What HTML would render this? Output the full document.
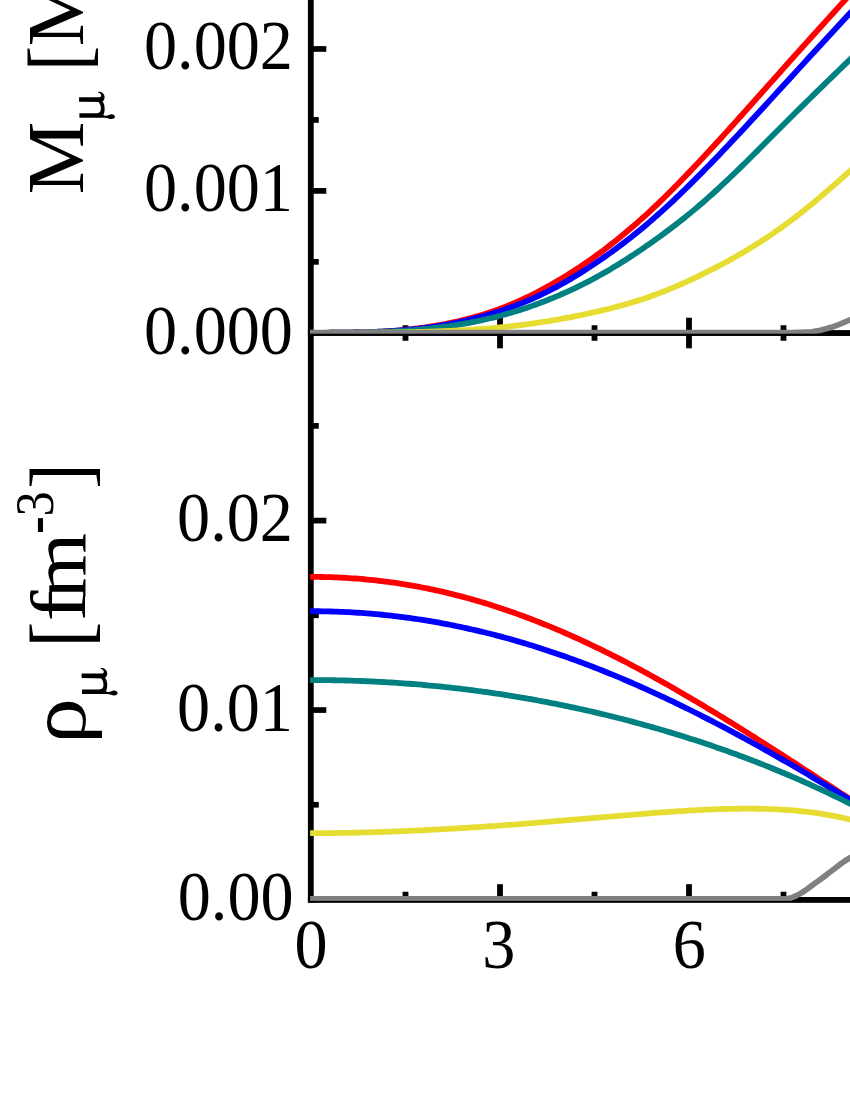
<!DOCTYPE html>
<html><head><meta charset="utf-8"><title>chart</title>
<style>
html,body{margin:0;padding:0;background:#fff;}
body{width:850px;height:1100px;overflow:hidden;font-family:"Liberation Serif",serif;}
svg{display:block}
text{font-family:"Liberation Serif",serif;fill:#000}
</style></head><body>
<svg width="850" height="1100" viewBox="0 0 850 1100">
<rect width="850" height="1100" fill="#fff"/>

<g fill="#000">
<rect x="307.9" y="-5" width="5.8" height="907.6"/>
<rect x="307.9" y="330.1" width="560" height="5.7"/>
<rect x="307.9" y="897.0" width="560" height="5.6"/>
<rect x="402.60" y="325.25" width="5.8" height="15.50"/>
<rect x="402.60" y="891.75" width="5.8" height="7.75"/>
<rect x="497.10" y="317.70" width="5.8" height="30.60"/>
<rect x="497.10" y="884.20" width="5.8" height="15.30"/>
<rect x="591.60" y="325.25" width="5.8" height="15.50"/>
<rect x="591.60" y="891.75" width="5.8" height="7.75"/>
<rect x="686.10" y="317.70" width="5.8" height="30.60"/>
<rect x="686.10" y="884.20" width="5.8" height="15.30"/>
<rect x="780.60" y="325.25" width="5.8" height="15.50"/>
<rect x="780.60" y="891.75" width="5.8" height="7.75"/>
<rect x="311.00" y="259.02" width="7.75" height="5.7"/>
<rect x="311.00" y="188.05" width="15.30" height="5.7"/>
<rect x="311.00" y="117.08" width="7.75" height="5.7"/>
<rect x="311.00" y="46.10" width="15.30" height="5.7"/>
<rect x="311.00" y="-24.88" width="7.75" height="5.7"/>
<rect x="311.00" y="-95.85" width="15.30" height="5.7"/>
<rect x="311.00" y="801.92" width="7.75" height="5.7"/>
<rect x="311.00" y="707.20" width="15.30" height="5.7"/>
<rect x="311.00" y="612.48" width="7.75" height="5.7"/>
<rect x="311.00" y="517.75" width="15.30" height="5.7"/>
<rect x="311.00" y="423.02" width="7.75" height="5.7"/>
</g>
<defs><clipPath id="cu"><rect x="310" y="-10" width="600" height="344"/></clipPath><clipPath id="cl"><rect x="310" y="336" width="600" height="565"/></clipPath></defs>
<g fill="none" stroke-width="5.8" stroke-linejoin="round" clip-path="url(#cu)">
<path stroke="#ff0000" d="M310.1,332.80 L313.1,332.80 L316.1,332.80 L319.1,332.80 L322.1,332.79 L325.1,332.79 L328.1,332.78 L331.1,332.77 L334.1,332.76 L337.1,332.74 L340.1,332.72 L343.1,332.69 L346.1,332.65 L349.1,332.61 L352.1,332.57 L355.1,332.51 L358.1,332.45 L361.1,332.38 L364.1,332.30 L367.1,332.20 L370.1,332.10 L373.1,331.99 L376.1,331.86 L379.1,331.72 L382.1,331.56 L385.1,331.39 L388.1,331.21 L391.1,331.00 L394.1,330.79 L397.1,330.55 L400.1,330.29 L403.1,330.02 L406.1,329.72 L409.1,329.40 L412.1,329.07 L415.1,328.71 L418.1,328.34 L421.1,327.94 L424.1,327.52 L427.1,327.08 L430.1,326.62 L433.1,326.14 L436.1,325.63 L439.1,325.11 L442.1,324.56 L445.1,323.98 L448.1,323.39 L451.1,322.77 L454.1,322.13 L457.1,321.46 L460.1,320.77 L463.1,320.05 L466.1,319.31 L469.1,318.54 L472.1,317.74 L475.1,316.91 L478.1,316.05 L481.1,315.16 L484.1,314.24 L487.1,313.29 L490.1,312.30 L493.1,311.28 L496.1,310.23 L499.1,309.13 L502.1,308.01 L505.1,306.84 L508.1,305.64 L511.1,304.41 L514.1,303.14 L517.1,301.83 L520.1,300.49 L523.1,299.12 L526.1,297.71 L529.1,296.27 L532.1,294.79 L535.1,293.28 L538.1,291.74 L541.1,290.16 L544.1,288.55 L547.1,286.91 L550.1,285.24 L553.1,283.54 L556.1,281.81 L559.1,280.04 L562.1,278.24 L565.1,276.42 L568.1,274.56 L571.1,272.66 L574.1,270.74 L577.1,268.78 L580.1,266.80 L583.1,264.78 L586.1,262.73 L589.1,260.64 L592.1,258.53 L595.1,256.38 L598.1,254.20 L601.1,251.98 L604.1,249.74 L607.1,247.46 L610.1,245.15 L613.1,242.81 L616.1,240.43 L619.1,238.02 L622.1,235.58 L625.1,233.10 L628.1,230.59 L631.1,228.04 L634.1,225.46 L637.1,222.85 L640.1,220.20 L643.1,217.51 L646.1,214.79 L649.1,212.03 L652.1,209.24 L655.1,206.42 L658.1,203.55 L661.1,200.66 L664.1,197.74 L667.1,194.78 L670.1,191.80 L673.1,188.79 L676.1,185.76 L679.1,182.70 L682.1,179.61 L685.1,176.51 L688.1,173.38 L691.1,170.24 L694.1,167.07 L697.1,163.89 L700.1,160.69 L703.1,157.48 L706.1,154.26 L709.1,151.02 L712.1,147.77 L715.1,144.50 L718.1,141.23 L721.1,137.94 L724.1,134.65 L727.1,131.34 L730.1,128.03 L733.1,124.70 L736.1,121.38 L739.1,118.04 L742.1,114.70 L745.1,111.35 L748.1,108.00 L751.1,104.64 L754.1,101.28 L757.1,97.91 L760.1,94.55 L763.1,91.18 L766.1,87.81 L769.1,84.44 L772.1,81.07 L775.1,77.70 L778.1,74.33 L781.1,70.97 L784.1,67.60 L787.1,64.24 L790.1,60.89 L793.1,57.54 L796.1,54.19 L799.1,50.85 L802.1,47.51 L805.1,44.17 L808.1,40.84 L811.1,37.51 L814.1,34.19 L817.1,30.86 L820.1,27.54 L823.1,24.22 L826.1,20.90 L829.1,17.59 L832.1,14.27 L835.1,10.96 L838.1,7.64 L841.1,4.33 L844.1,1.02 L847.1,-2.30 L850.1,-5.61 L853.1,-8.92 L856.1,-12.24 L859.1,-15.55 L862.1,-18.87 L865.1,-22.18 L868.1,-25.50 L871.1,-28.82"/>
<path stroke="#0000ff" d="M310.1,332.80 L313.1,332.80 L316.1,332.80 L319.1,332.80 L322.1,332.79 L325.1,332.79 L328.1,332.78 L331.1,332.77 L334.1,332.76 L337.1,332.74 L340.1,332.71 L343.1,332.69 L346.1,332.65 L349.1,332.61 L352.1,332.57 L355.1,332.51 L358.1,332.45 L361.1,332.39 L364.1,332.31 L367.1,332.22 L370.1,332.13 L373.1,332.02 L376.1,331.90 L379.1,331.77 L382.1,331.63 L385.1,331.48 L388.1,331.31 L391.1,331.13 L394.1,330.93 L397.1,330.72 L400.1,330.49 L403.1,330.25 L406.1,329.99 L409.1,329.71 L412.1,329.42 L415.1,329.11 L418.1,328.78 L421.1,328.43 L424.1,328.06 L427.1,327.67 L430.1,327.26 L433.1,326.83 L436.1,326.38 L439.1,325.91 L442.1,325.41 L445.1,324.89 L448.1,324.35 L451.1,323.79 L454.1,323.20 L457.1,322.59 L460.1,321.96 L463.1,321.30 L466.1,320.61 L469.1,319.90 L472.1,319.17 L475.1,318.41 L478.1,317.63 L481.1,316.82 L484.1,315.98 L487.1,315.12 L490.1,314.23 L493.1,313.31 L496.1,312.37 L499.1,311.40 L502.1,310.40 L505.1,309.37 L508.1,308.32 L511.1,307.24 L514.1,306.12 L517.1,304.98 L520.1,303.81 L523.1,302.60 L526.1,301.37 L529.1,300.10 L532.1,298.79 L535.1,297.46 L538.1,296.09 L541.1,294.68 L544.1,293.24 L547.1,291.76 L550.1,290.25 L553.1,288.70 L556.1,287.11 L559.1,285.49 L562.1,283.83 L565.1,282.14 L568.1,280.41 L571.1,278.65 L574.1,276.86 L577.1,275.03 L580.1,273.17 L583.1,271.28 L586.1,269.37 L589.1,267.42 L592.1,265.44 L595.1,263.44 L598.1,261.40 L601.1,259.34 L604.1,257.25 L607.1,255.14 L610.1,253.00 L613.1,250.82 L616.1,248.62 L619.1,246.39 L622.1,244.14 L625.1,241.85 L628.1,239.52 L631.1,237.17 L634.1,234.79 L637.1,232.37 L640.1,229.92 L643.1,227.44 L646.1,224.92 L649.1,222.37 L652.1,219.79 L655.1,217.17 L658.1,214.51 L661.1,211.83 L664.1,209.11 L667.1,206.36 L670.1,203.59 L673.1,200.78 L676.1,197.95 L679.1,195.09 L682.1,192.20 L685.1,189.29 L688.1,186.36 L691.1,183.40 L694.1,180.42 L697.1,177.42 L700.1,174.40 L703.1,171.36 L706.1,168.30 L709.1,165.23 L712.1,162.13 L715.1,159.03 L718.1,155.90 L721.1,152.76 L724.1,149.61 L727.1,146.45 L730.1,143.27 L733.1,140.08 L736.1,136.88 L739.1,133.67 L742.1,130.44 L745.1,127.21 L748.1,123.98 L751.1,120.73 L754.1,117.48 L757.1,114.22 L760.1,110.96 L763.1,107.69 L766.1,104.42 L769.1,101.14 L772.1,97.86 L775.1,94.59 L778.1,91.31 L781.1,88.03 L784.1,84.75 L787.1,81.47 L790.1,78.19 L793.1,74.92 L796.1,71.65 L799.1,68.38 L802.1,65.11 L805.1,61.85 L808.1,58.58 L811.1,55.33 L814.1,52.07 L817.1,48.81 L820.1,45.56 L823.1,42.30 L826.1,39.05 L829.1,35.80 L832.1,32.56 L835.1,29.31 L838.1,26.06 L841.1,22.82 L844.1,19.58 L847.1,16.33 L850.1,13.09 L853.1,9.85 L856.1,6.61 L859.1,3.37 L862.1,0.13 L865.1,-3.11 L868.1,-6.35 L871.1,-9.59"/>
<path stroke="#008080" d="M310.1,332.80 L313.1,332.80 L316.1,332.80 L319.1,332.79 L322.1,332.79 L325.1,332.78 L328.1,332.77 L331.1,332.75 L334.1,332.73 L337.1,332.72 L340.1,332.69 L343.1,332.67 L346.1,332.64 L349.1,332.61 L352.1,332.58 L355.1,332.54 L358.1,332.50 L361.1,332.45 L364.1,332.40 L367.1,332.34 L370.1,332.27 L373.1,332.20 L376.1,332.12 L379.1,332.03 L382.1,331.93 L385.1,331.82 L388.1,331.70 L391.1,331.57 L394.1,331.42 L397.1,331.27 L400.1,331.09 L403.1,330.91 L406.1,330.71 L409.1,330.50 L412.1,330.27 L415.1,330.02 L418.1,329.76 L421.1,329.49 L424.1,329.20 L427.1,328.89 L430.1,328.57 L433.1,328.23 L436.1,327.87 L439.1,327.50 L442.1,327.11 L445.1,326.70 L448.1,326.28 L451.1,325.84 L454.1,325.38 L457.1,324.90 L460.1,324.40 L463.1,323.88 L466.1,323.34 L469.1,322.79 L472.1,322.21 L475.1,321.61 L478.1,320.99 L481.1,320.35 L484.1,319.69 L487.1,319.01 L490.1,318.30 L493.1,317.57 L496.1,316.82 L499.1,316.04 L502.1,315.24 L505.1,314.41 L508.1,313.56 L511.1,312.68 L514.1,311.78 L517.1,310.86 L520.1,309.91 L523.1,308.94 L526.1,307.94 L529.1,306.92 L532.1,305.87 L535.1,304.80 L538.1,303.70 L541.1,302.58 L544.1,301.43 L547.1,300.26 L550.1,299.06 L553.1,297.84 L556.1,296.59 L559.1,295.32 L562.1,294.02 L565.1,292.69 L568.1,291.34 L571.1,289.95 L574.1,288.55 L577.1,287.11 L580.1,285.65 L583.1,284.15 L586.1,282.63 L589.1,281.08 L592.1,279.50 L595.1,277.89 L598.1,276.25 L601.1,274.58 L604.1,272.88 L607.1,271.15 L610.1,269.39 L613.1,267.60 L616.1,265.79 L619.1,263.94 L622.1,262.07 L625.1,260.18 L628.1,258.25 L631.1,256.31 L634.1,254.33 L637.1,252.34 L640.1,250.32 L643.1,248.28 L646.1,246.21 L649.1,244.13 L652.1,242.02 L655.1,239.90 L658.1,237.75 L661.1,235.58 L664.1,233.38 L667.1,231.16 L670.1,228.91 L673.1,226.64 L676.1,224.34 L679.1,222.01 L682.1,219.65 L685.1,217.26 L688.1,214.84 L691.1,212.38 L694.1,209.89 L697.1,207.37 L700.1,204.81 L703.1,202.22 L706.1,199.59 L709.1,196.93 L712.1,194.24 L715.1,191.52 L718.1,188.77 L721.1,185.99 L724.1,183.18 L727.1,180.35 L730.1,177.50 L733.1,174.63 L736.1,171.74 L739.1,168.83 L742.1,165.90 L745.1,162.96 L748.1,160.00 L751.1,157.03 L754.1,154.05 L757.1,151.07 L760.1,148.07 L763.1,145.07 L766.1,142.06 L769.1,139.05 L772.1,136.03 L775.1,133.02 L778.1,130.01 L781.1,127.00 L784.1,123.99 L787.1,120.99 L790.1,118.00 L793.1,115.02 L796.1,112.04 L799.1,109.07 L802.1,106.11 L805.1,103.15 L808.1,100.21 L811.1,97.26 L814.1,94.33 L817.1,91.40 L820.1,88.47 L823.1,85.55 L826.1,82.63 L829.1,79.72 L832.1,76.81 L835.1,73.90 L838.1,71.00 L841.1,68.10 L844.1,65.20 L847.1,62.30 L850.1,59.40 L853.1,56.51 L856.1,53.61 L859.1,50.72 L862.1,47.82 L865.1,44.93 L868.1,42.03 L871.1,39.14"/>
<path stroke="#e6dc32" d="M310.1,332.80 L313.1,332.80 L316.1,332.80 L319.1,332.80 L322.1,332.80 L325.1,332.81 L328.1,332.81 L331.1,332.81 L334.1,332.81 L337.1,332.81 L340.1,332.81 L343.1,332.81 L346.1,332.81 L349.1,332.80 L352.1,332.80 L355.1,332.79 L358.1,332.78 L361.1,332.77 L364.1,332.76 L367.1,332.74 L370.1,332.73 L373.1,332.71 L376.1,332.68 L379.1,332.66 L382.1,332.63 L385.1,332.60 L388.1,332.57 L391.1,332.53 L394.1,332.49 L397.1,332.45 L400.1,332.40 L403.1,332.35 L406.1,332.29 L409.1,332.23 L412.1,332.17 L415.1,332.10 L418.1,332.02 L421.1,331.94 L424.1,331.86 L427.1,331.77 L430.1,331.68 L433.1,331.58 L436.1,331.47 L439.1,331.36 L442.1,331.24 L445.1,331.12 L448.1,330.99 L451.1,330.85 L454.1,330.70 L457.1,330.55 L460.1,330.39 L463.1,330.23 L466.1,330.05 L469.1,329.87 L472.1,329.67 L475.1,329.47 L478.1,329.26 L481.1,329.04 L484.1,328.81 L487.1,328.57 L490.1,328.31 L493.1,328.05 L496.1,327.78 L499.1,327.49 L502.1,327.19 L505.1,326.88 L508.1,326.55 L511.1,326.22 L514.1,325.87 L517.1,325.51 L520.1,325.14 L523.1,324.76 L526.1,324.36 L529.1,323.96 L532.1,323.54 L535.1,323.11 L538.1,322.67 L541.1,322.21 L544.1,321.75 L547.1,321.27 L550.1,320.78 L553.1,320.28 L556.1,319.77 L559.1,319.25 L562.1,318.72 L565.1,318.17 L568.1,317.61 L571.1,317.04 L574.1,316.46 L577.1,315.87 L580.1,315.26 L583.1,314.64 L586.1,314.01 L589.1,313.36 L592.1,312.70 L595.1,312.03 L598.1,311.34 L601.1,310.64 L604.1,309.93 L607.1,309.20 L610.1,308.45 L613.1,307.69 L616.1,306.91 L619.1,306.12 L622.1,305.30 L625.1,304.46 L628.1,303.60 L631.1,302.72 L634.1,301.82 L637.1,300.89 L640.1,299.94 L643.1,298.96 L646.1,297.95 L649.1,296.92 L652.1,295.85 L655.1,294.76 L658.1,293.64 L661.1,292.50 L664.1,291.32 L667.1,290.12 L670.1,288.90 L673.1,287.65 L676.1,286.38 L679.1,285.08 L682.1,283.76 L685.1,282.42 L688.1,281.06 L691.1,279.67 L694.1,278.27 L697.1,276.84 L700.1,275.40 L703.1,273.94 L706.1,272.46 L709.1,270.96 L712.1,269.44 L715.1,267.90 L718.1,266.34 L721.1,264.75 L724.1,263.15 L727.1,261.52 L730.1,259.87 L733.1,258.20 L736.1,256.50 L739.1,254.77 L742.1,253.03 L745.1,251.25 L748.1,249.45 L751.1,247.62 L754.1,245.77 L757.1,243.89 L760.1,241.97 L763.1,240.03 L766.1,238.06 L769.1,236.06 L772.1,234.03 L775.1,231.97 L778.1,229.88 L781.1,227.76 L784.1,225.60 L787.1,223.41 L790.1,221.18 L793.1,218.93 L796.1,216.63 L799.1,214.31 L802.1,211.94 L805.1,209.54 L808.1,207.11 L811.1,204.65 L814.1,202.16 L817.1,199.65 L820.1,197.11 L823.1,194.55 L826.1,191.97 L829.1,189.38 L832.1,186.77 L835.1,184.14 L838.1,181.51 L841.1,178.87 L844.1,176.22 L847.1,173.57 L850.1,170.91 L853.1,168.26 L856.1,165.60 L859.1,162.95 L862.1,160.29 L865.1,157.64 L868.1,154.98 L871.1,152.33"/>
<path stroke="#808080" d="M310.1,332.60 L313.1,332.60 L316.1,332.60 L319.1,332.60 L322.1,332.60 L325.1,332.60 L328.1,332.60 L331.1,332.60 L334.1,332.60 L337.1,332.60 L340.1,332.60 L343.1,332.60 L346.1,332.60 L349.1,332.60 L352.1,332.60 L355.1,332.60 L358.1,332.60 L361.1,332.60 L364.1,332.60 L367.1,332.60 L370.1,332.60 L373.1,332.60 L376.1,332.60 L379.1,332.60 L382.1,332.60 L385.1,332.60 L388.1,332.60 L391.1,332.60 L394.1,332.60 L397.1,332.60 L400.1,332.60 L403.1,332.60 L406.1,332.60 L409.1,332.60 L412.1,332.60 L415.1,332.60 L418.1,332.60 L421.1,332.60 L424.1,332.60 L427.1,332.60 L430.1,332.60 L433.1,332.60 L436.1,332.60 L439.1,332.60 L442.1,332.60 L445.1,332.60 L448.1,332.60 L451.1,332.60 L454.1,332.60 L457.1,332.60 L460.1,332.60 L463.1,332.60 L466.1,332.60 L469.1,332.60 L472.1,332.60 L475.1,332.60 L478.1,332.60 L481.1,332.60 L484.1,332.60 L487.1,332.60 L490.1,332.60 L493.1,332.60 L496.1,332.60 L499.1,332.60 L502.1,332.60 L505.1,332.60 L508.1,332.60 L511.1,332.60 L514.1,332.60 L517.1,332.60 L520.1,332.60 L523.1,332.60 L526.1,332.60 L529.1,332.60 L532.1,332.60 L535.1,332.60 L538.1,332.60 L541.1,332.60 L544.1,332.60 L547.1,332.60 L550.1,332.60 L553.1,332.60 L556.1,332.60 L559.1,332.60 L562.1,332.60 L565.1,332.60 L568.1,332.60 L571.1,332.60 L574.1,332.60 L577.1,332.60 L580.1,332.60 L583.1,332.60 L586.1,332.60 L589.1,332.60 L592.1,332.60 L595.1,332.60 L598.1,332.60 L601.1,332.60 L604.1,332.60 L607.1,332.60 L610.1,332.60 L613.1,332.60 L616.1,332.60 L619.1,332.60 L622.1,332.60 L625.1,332.60 L628.1,332.60 L631.1,332.60 L634.1,332.60 L637.1,332.60 L640.1,332.60 L643.1,332.60 L646.1,332.60 L649.1,332.60 L652.1,332.60 L655.1,332.60 L658.1,332.60 L661.1,332.60 L664.1,332.60 L667.1,332.60 L670.1,332.60 L673.1,332.60 L676.1,332.60 L679.1,332.60 L682.1,332.60 L685.1,332.60 L688.1,332.60 L691.1,332.60 L694.1,332.60 L697.1,332.60 L700.1,332.60 L703.1,332.60 L706.1,332.60 L709.1,332.60 L712.1,332.60 L715.1,332.60 L718.1,332.60 L721.1,332.60 L724.1,332.60 L727.1,332.60 L730.1,332.60 L733.1,332.60 L736.1,332.60 L739.1,332.60 L742.1,332.60 L745.1,332.60 L748.1,332.60 L751.1,332.60 L754.1,332.60 L757.1,332.60 L760.1,332.60 L763.1,332.60 L766.1,332.60 L769.1,332.60 L772.1,332.60 L775.1,332.60 L778.1,332.60 L781.1,332.60 L784.1,332.60 L787.1,332.60 L790.1,332.58 L793.1,332.56 L796.1,332.52 L799.1,332.48 L802.1,332.39 L805.1,332.24 L808.1,332.07 L811.1,331.80 L814.1,331.43 L817.1,330.98 L820.1,330.36 L823.1,329.57 L826.1,328.71 L829.1,327.86 L832.1,326.96 L835.1,325.98 L838.1,324.86 L841.1,323.60 L844.1,322.30 L847.1,321.07 L850.1,319.86 L853.1,318.62 L856.1,317.38 L859.1,316.13 L862.1,314.87 L865.1,313.60 L868.1,312.32 L871.1,311.02"/>
</g>
<g fill="none" stroke-width="5.8" stroke-linejoin="round" clip-path="url(#cl)">
<path stroke="#ff0000" d="M310.1,576.89 L313.1,576.89 L316.1,576.91 L319.1,576.94 L322.1,576.99 L325.1,577.05 L328.1,577.13 L331.1,577.22 L334.1,577.32 L337.1,577.45 L340.1,577.58 L343.1,577.74 L346.1,577.90 L349.1,578.09 L352.1,578.29 L355.1,578.50 L358.1,578.73 L361.1,578.98 L364.1,579.24 L367.1,579.52 L370.1,579.81 L373.1,580.12 L376.1,580.44 L379.1,580.78 L382.1,581.14 L385.1,581.52 L388.1,581.90 L391.1,582.31 L394.1,582.73 L397.1,583.17 L400.1,583.62 L403.1,584.09 L406.1,584.58 L409.1,585.08 L412.1,585.60 L415.1,586.14 L418.1,586.69 L421.1,587.26 L424.1,587.84 L427.1,588.44 L430.1,589.06 L433.1,589.69 L436.1,590.34 L439.1,591.00 L442.1,591.68 L445.1,592.38 L448.1,593.09 L451.1,593.82 L454.1,594.57 L457.1,595.33 L460.1,596.11 L463.1,596.90 L466.1,597.71 L469.1,598.54 L472.1,599.38 L475.1,600.23 L478.1,601.11 L481.1,602.00 L484.1,602.90 L487.1,603.82 L490.1,604.76 L493.1,605.71 L496.1,606.67 L499.1,607.66 L502.1,608.65 L505.1,609.67 L508.1,610.69 L511.1,611.74 L514.1,612.80 L517.1,613.87 L520.1,614.96 L523.1,616.06 L526.1,617.18 L529.1,618.31 L532.1,619.46 L535.1,620.62 L538.1,621.79 L541.1,622.98 L544.1,624.19 L547.1,625.41 L550.1,626.64 L553.1,627.89 L556.1,629.15 L559.1,630.42 L562.1,631.71 L565.1,633.01 L568.1,634.33 L571.1,635.66 L574.1,637.00 L577.1,638.36 L580.1,639.72 L583.1,641.11 L586.1,642.50 L589.1,643.91 L592.1,645.33 L595.1,646.76 L598.1,648.20 L601.1,649.66 L604.1,651.13 L607.1,652.61 L610.1,654.10 L613.1,655.61 L616.1,657.12 L619.1,658.65 L622.1,660.19 L625.1,661.74 L628.1,663.30 L631.1,664.88 L634.1,666.46 L637.1,668.05 L640.1,669.66 L643.1,671.27 L646.1,672.90 L649.1,674.54 L652.1,676.18 L655.1,677.84 L658.1,679.50 L661.1,681.18 L664.1,682.86 L667.1,684.56 L670.1,686.26 L673.1,687.97 L676.1,689.69 L679.1,691.42 L682.1,693.16 L685.1,694.91 L688.1,696.66 L691.1,698.42 L694.1,700.20 L697.1,701.97 L700.1,703.76 L703.1,705.55 L706.1,707.36 L709.1,709.16 L712.1,710.98 L715.1,712.80 L718.1,714.63 L721.1,716.47 L724.1,718.31 L727.1,720.16 L730.1,722.01 L733.1,723.87 L736.1,725.73 L739.1,727.61 L742.1,729.48 L745.1,731.36 L748.1,733.25 L751.1,735.14 L754.1,737.04 L757.1,738.94 L760.1,740.84 L763.1,742.75 L766.1,744.67 L769.1,746.58 L772.1,748.51 L775.1,750.43 L778.1,752.36 L781.1,754.29 L784.1,756.22 L787.1,758.16 L790.1,760.10 L793.1,762.04 L796.1,763.99 L799.1,765.93 L802.1,767.88 L805.1,769.83 L808.1,771.78 L811.1,773.74 L814.1,775.69 L817.1,777.65 L820.1,779.60 L823.1,781.56 L826.1,783.52 L829.1,785.48 L832.1,787.44 L835.1,789.39 L838.1,791.35 L841.1,793.31 L844.1,795.27 L847.1,797.23 L850.1,799.18 L853.1,801.14 L856.1,803.09 L859.1,805.05 L862.1,807.00 L865.1,808.95 L868.1,810.90 L871.1,812.84"/>
<path stroke="#0000ff" d="M310.1,611.22 L313.1,611.22 L316.1,611.24 L319.1,611.26 L322.1,611.30 L325.1,611.35 L328.1,611.42 L331.1,611.50 L334.1,611.59 L337.1,611.69 L340.1,611.80 L343.1,611.93 L346.1,612.07 L349.1,612.22 L352.1,612.39 L355.1,612.56 L358.1,612.76 L361.1,612.96 L364.1,613.17 L367.1,613.40 L370.1,613.64 L373.1,613.90 L376.1,614.17 L379.1,614.45 L382.1,614.74 L385.1,615.04 L388.1,615.36 L391.1,615.69 L394.1,616.04 L397.1,616.39 L400.1,616.76 L403.1,617.14 L406.1,617.54 L409.1,617.95 L412.1,618.37 L415.1,618.80 L418.1,619.25 L421.1,619.71 L424.1,620.18 L427.1,620.66 L430.1,621.16 L433.1,621.67 L436.1,622.20 L439.1,622.73 L442.1,623.28 L445.1,623.84 L448.1,624.42 L451.1,625.00 L454.1,625.60 L457.1,626.22 L460.1,626.84 L463.1,627.48 L466.1,628.13 L469.1,628.80 L472.1,629.47 L475.1,630.16 L478.1,630.86 L481.1,631.57 L484.1,632.30 L487.1,633.04 L490.1,633.79 L493.1,634.55 L496.1,635.33 L499.1,636.12 L502.1,636.92 L505.1,637.73 L508.1,638.56 L511.1,639.40 L514.1,640.25 L517.1,641.11 L520.1,641.98 L523.1,642.87 L526.1,643.77 L529.1,644.68 L532.1,645.60 L535.1,646.54 L538.1,647.49 L541.1,648.45 L544.1,649.42 L547.1,650.40 L550.1,651.39 L553.1,652.40 L556.1,653.42 L559.1,654.45 L562.1,655.49 L565.1,656.54 L568.1,657.61 L571.1,658.68 L574.1,659.77 L577.1,660.87 L580.1,661.98 L583.1,663.10 L586.1,664.23 L589.1,665.38 L592.1,666.53 L595.1,667.70 L598.1,668.87 L601.1,670.06 L604.1,671.26 L607.1,672.47 L610.1,673.69 L613.1,674.92 L616.1,676.17 L619.1,677.42 L622.1,678.68 L625.1,679.96 L628.1,681.24 L631.1,682.53 L634.1,683.84 L637.1,685.15 L640.1,686.48 L643.1,687.81 L646.1,689.16 L649.1,690.52 L652.1,691.88 L655.1,693.26 L658.1,694.64 L661.1,696.04 L664.1,697.44 L667.1,698.85 L670.1,700.28 L673.1,701.71 L676.1,703.15 L679.1,704.60 L682.1,706.06 L685.1,707.53 L688.1,709.01 L691.1,710.50 L694.1,712.00 L697.1,713.50 L700.1,715.02 L703.1,716.54 L706.1,718.07 L709.1,719.61 L712.1,721.16 L715.1,722.71 L718.1,724.28 L721.1,725.85 L724.1,727.43 L727.1,729.02 L730.1,730.62 L733.1,732.22 L736.1,733.83 L739.1,735.45 L742.1,737.08 L745.1,738.72 L748.1,740.36 L751.1,742.01 L754.1,743.67 L757.1,745.33 L760.1,747.00 L763.1,748.68 L766.1,750.36 L769.1,752.06 L772.1,753.75 L775.1,755.46 L778.1,757.17 L781.1,758.89 L784.1,760.61 L787.1,762.34 L790.1,764.08 L793.1,765.82 L796.1,767.57 L799.1,769.32 L802.1,771.08 L805.1,772.85 L808.1,774.62 L811.1,776.39 L814.1,778.17 L817.1,779.96 L820.1,781.75 L823.1,783.55 L826.1,785.35 L829.1,787.15 L832.1,788.96 L835.1,790.78 L838.1,792.60 L841.1,794.42 L844.1,796.25 L847.1,798.08 L850.1,799.92 L853.1,801.76 L856.1,803.61 L859.1,805.45 L862.1,807.30 L865.1,809.16 L868.1,811.02 L871.1,812.88"/>
<path stroke="#008080" d="M310.1,680.05 L313.1,680.06 L316.1,680.06 L319.1,680.08 L322.1,680.10 L325.1,680.13 L328.1,680.16 L331.1,680.20 L334.1,680.25 L337.1,680.31 L340.1,680.37 L343.1,680.44 L346.1,680.52 L349.1,680.60 L352.1,680.69 L355.1,680.79 L358.1,680.89 L361.1,681.00 L364.1,681.12 L367.1,681.25 L370.1,681.38 L373.1,681.52 L376.1,681.66 L379.1,681.82 L382.1,681.98 L385.1,682.15 L388.1,682.32 L391.1,682.51 L394.1,682.70 L397.1,682.89 L400.1,683.10 L403.1,683.31 L406.1,683.53 L409.1,683.75 L412.1,683.99 L415.1,684.23 L418.1,684.48 L421.1,684.73 L424.1,685.00 L427.1,685.27 L430.1,685.55 L433.1,685.83 L436.1,686.12 L439.1,686.42 L442.1,686.73 L445.1,687.05 L448.1,687.37 L451.1,687.70 L454.1,688.03 L457.1,688.38 L460.1,688.73 L463.1,689.09 L466.1,689.46 L469.1,689.83 L472.1,690.21 L475.1,690.60 L478.1,691.00 L481.1,691.40 L484.1,691.82 L487.1,692.24 L490.1,692.66 L493.1,693.10 L496.1,693.54 L499.1,693.99 L502.1,694.45 L505.1,694.91 L508.1,695.38 L511.1,695.86 L514.1,696.35 L517.1,696.84 L520.1,697.35 L523.1,697.86 L526.1,698.37 L529.1,698.90 L532.1,699.43 L535.1,699.97 L538.1,700.52 L541.1,701.08 L544.1,701.64 L547.1,702.21 L550.1,702.79 L553.1,703.38 L556.1,703.97 L559.1,704.57 L562.1,705.18 L565.1,705.80 L568.1,706.42 L571.1,707.05 L574.1,707.69 L577.1,708.34 L580.1,709.00 L583.1,709.66 L586.1,710.33 L589.1,711.01 L592.1,711.70 L595.1,712.39 L598.1,713.10 L601.1,713.81 L604.1,714.53 L607.1,715.25 L610.1,715.99 L613.1,716.73 L616.1,717.48 L619.1,718.24 L622.1,719.00 L625.1,719.78 L628.1,720.56 L631.1,721.35 L634.1,722.15 L637.1,722.95 L640.1,723.77 L643.1,724.59 L646.1,725.42 L649.1,726.26 L652.1,727.11 L655.1,727.96 L658.1,728.83 L661.1,729.70 L664.1,730.58 L667.1,731.47 L670.1,732.37 L673.1,733.27 L676.1,734.19 L679.1,735.11 L682.1,736.04 L685.1,736.99 L688.1,737.93 L691.1,738.89 L694.1,739.86 L697.1,740.83 L700.1,741.82 L703.1,742.81 L706.1,743.82 L709.1,744.83 L712.1,745.85 L715.1,746.88 L718.1,747.92 L721.1,748.96 L724.1,750.02 L727.1,751.09 L730.1,752.16 L733.1,753.25 L736.1,754.34 L739.1,755.45 L742.1,756.56 L745.1,757.69 L748.1,758.82 L751.1,759.96 L754.1,761.12 L757.1,762.28 L760.1,763.45 L763.1,764.64 L766.1,765.83 L769.1,767.04 L772.1,768.25 L775.1,769.47 L778.1,770.71 L781.1,771.96 L784.1,773.21 L787.1,774.48 L790.1,775.76 L793.1,777.05 L796.1,778.35 L799.1,779.66 L802.1,780.98 L805.1,782.32 L808.1,783.66 L811.1,785.02 L814.1,786.39 L817.1,787.77 L820.1,789.16 L823.1,790.56 L826.1,791.98 L829.1,793.41 L832.1,794.85 L835.1,796.30 L838.1,797.76 L841.1,799.24 L844.1,800.73 L847.1,802.24 L850.1,803.75 L853.1,805.28 L856.1,806.83 L859.1,808.38 L862.1,809.95 L865.1,811.53 L868.1,813.13 L871.1,814.74"/>
<path stroke="#e6dc32" d="M310.1,833.19 L313.1,833.19 L316.1,833.18 L319.1,833.17 L322.1,833.15 L325.1,833.13 L328.1,833.10 L331.1,833.07 L334.1,833.04 L337.1,833.00 L340.1,832.95 L343.1,832.90 L346.1,832.85 L349.1,832.79 L352.1,832.73 L355.1,832.67 L358.1,832.60 L361.1,832.52 L364.1,832.44 L367.1,832.36 L370.1,832.28 L373.1,832.19 L376.1,832.10 L379.1,832.00 L382.1,831.90 L385.1,831.80 L388.1,831.69 L391.1,831.58 L394.1,831.47 L397.1,831.35 L400.1,831.23 L403.1,831.11 L406.1,830.98 L409.1,830.85 L412.1,830.72 L415.1,830.58 L418.1,830.44 L421.1,830.30 L424.1,830.16 L427.1,830.01 L430.1,829.86 L433.1,829.70 L436.1,829.55 L439.1,829.39 L442.1,829.22 L445.1,829.06 L448.1,828.89 L451.1,828.72 L454.1,828.54 L457.1,828.37 L460.1,828.19 L463.1,828.01 L466.1,827.82 L469.1,827.63 L472.1,827.44 L475.1,827.25 L478.1,827.06 L481.1,826.86 L484.1,826.66 L487.1,826.46 L490.1,826.25 L493.1,826.04 L496.1,825.83 L499.1,825.62 L502.1,825.41 L505.1,825.19 L508.1,824.97 L511.1,824.75 L514.1,824.53 L517.1,824.30 L520.1,824.08 L523.1,823.85 L526.1,823.62 L529.1,823.38 L532.1,823.15 L535.1,822.91 L538.1,822.67 L541.1,822.43 L544.1,822.19 L547.1,821.95 L550.1,821.70 L553.1,821.46 L556.1,821.21 L559.1,820.96 L562.1,820.71 L565.1,820.46 L568.1,820.20 L571.1,819.95 L574.1,819.70 L577.1,819.44 L580.1,819.19 L583.1,818.93 L586.1,818.67 L589.1,818.42 L592.1,818.16 L595.1,817.90 L598.1,817.64 L601.1,817.39 L604.1,817.13 L607.1,816.87 L610.1,816.62 L613.1,816.36 L616.1,816.10 L619.1,815.85 L622.1,815.60 L625.1,815.35 L628.1,815.09 L631.1,814.85 L634.1,814.60 L637.1,814.35 L640.1,814.11 L643.1,813.87 L646.1,813.63 L649.1,813.39 L652.1,813.16 L655.1,812.93 L658.1,812.70 L661.1,812.48 L664.1,812.26 L667.1,812.04 L670.1,811.83 L673.1,811.62 L676.1,811.42 L679.1,811.22 L682.1,811.03 L685.1,810.84 L688.1,810.66 L691.1,810.48 L694.1,810.31 L697.1,810.15 L700.1,809.99 L703.1,809.84 L706.1,809.70 L709.1,809.57 L712.1,809.44 L715.1,809.32 L718.1,809.22 L721.1,809.12 L724.1,809.02 L727.1,808.94 L730.1,808.87 L733.1,808.81 L736.1,808.76 L739.1,808.73 L742.1,808.70 L745.1,808.68 L748.1,808.68 L751.1,808.69 L754.1,808.72 L757.1,808.76 L760.1,808.81 L763.1,808.87 L766.1,808.96 L769.1,809.05 L772.1,809.17 L775.1,809.30 L778.1,809.45 L781.1,809.61 L784.1,809.79 L787.1,810.00 L790.1,810.22 L793.1,810.46 L796.1,810.72 L799.1,811.00 L802.1,811.30 L805.1,811.62 L808.1,811.97 L811.1,812.34 L814.1,812.74 L817.1,813.15 L820.1,813.60 L823.1,814.06 L826.1,814.56 L829.1,815.08 L832.1,815.63 L835.1,816.21 L838.1,816.81 L841.1,817.45 L844.1,818.12 L847.1,818.81 L850.1,819.54 L853.1,820.30 L856.1,821.10 L859.1,821.92 L862.1,822.79 L865.1,823.69 L868.1,824.62 L871.1,825.59"/>
<path stroke="#808080" d="M310.1,899.00 L313.1,899.00 L316.1,899.00 L319.1,899.00 L322.1,899.00 L325.1,899.00 L328.1,899.00 L331.1,899.00 L334.1,899.00 L337.1,899.00 L340.1,899.00 L343.1,899.00 L346.1,899.00 L349.1,899.00 L352.1,899.00 L355.1,899.00 L358.1,899.00 L361.1,899.00 L364.1,899.00 L367.1,899.00 L370.1,899.00 L373.1,899.00 L376.1,899.00 L379.1,899.00 L382.1,899.00 L385.1,899.00 L388.1,899.00 L391.1,899.00 L394.1,899.00 L397.1,899.00 L400.1,899.00 L403.1,899.00 L406.1,899.00 L409.1,899.00 L412.1,899.00 L415.1,899.00 L418.1,899.00 L421.1,899.00 L424.1,899.00 L427.1,899.00 L430.1,899.00 L433.1,899.00 L436.1,899.00 L439.1,899.00 L442.1,899.00 L445.1,899.00 L448.1,899.00 L451.1,899.00 L454.1,899.00 L457.1,899.00 L460.1,899.00 L463.1,899.00 L466.1,899.00 L469.1,899.00 L472.1,899.00 L475.1,899.00 L478.1,899.00 L481.1,899.00 L484.1,899.00 L487.1,899.00 L490.1,899.00 L493.1,899.00 L496.1,899.00 L499.1,899.00 L502.1,899.00 L505.1,899.00 L508.1,899.00 L511.1,899.00 L514.1,899.00 L517.1,899.00 L520.1,899.00 L523.1,899.00 L526.1,899.00 L529.1,899.00 L532.1,899.00 L535.1,899.00 L538.1,899.00 L541.1,899.00 L544.1,899.00 L547.1,899.00 L550.1,899.00 L553.1,899.00 L556.1,899.00 L559.1,899.00 L562.1,899.00 L565.1,899.00 L568.1,899.00 L571.1,899.00 L574.1,899.00 L577.1,899.00 L580.1,899.00 L583.1,899.00 L586.1,899.00 L589.1,899.00 L592.1,899.00 L595.1,899.00 L598.1,899.00 L601.1,899.00 L604.1,899.00 L607.1,899.00 L610.1,899.00 L613.1,899.00 L616.1,899.00 L619.1,899.00 L622.1,899.00 L625.1,899.00 L628.1,899.00 L631.1,899.00 L634.1,899.00 L637.1,899.00 L640.1,899.00 L643.1,899.00 L646.1,899.00 L649.1,899.00 L652.1,899.00 L655.1,899.00 L658.1,899.00 L661.1,899.00 L664.1,899.00 L667.1,899.00 L670.1,899.00 L673.1,899.00 L676.1,899.00 L679.1,899.00 L682.1,899.00 L685.1,899.00 L688.1,899.00 L691.1,899.00 L694.1,899.00 L697.1,899.00 L700.1,899.00 L703.1,899.00 L706.1,899.00 L709.1,899.00 L712.1,899.00 L715.1,899.00 L718.1,899.00 L721.1,899.00 L724.1,899.00 L727.1,899.00 L730.1,899.00 L733.1,899.00 L736.1,899.00 L739.1,899.00 L742.1,899.00 L745.1,899.00 L748.1,899.00 L751.1,899.00 L754.1,899.00 L757.1,899.00 L760.1,899.00 L763.1,899.00 L766.1,899.00 L769.1,899.00 L772.1,899.00 L775.1,899.00 L778.1,899.00 L781.1,899.00 L784.1,899.00 L787.1,898.92 L790.1,898.16 L793.1,897.13 L796.1,895.75 L799.1,894.21 L802.1,892.48 L805.1,890.52 L808.1,888.34 L811.1,886.10 L814.1,883.91 L817.1,881.75 L820.1,879.58 L823.1,877.37 L826.1,875.11 L829.1,872.81 L832.1,870.50 L835.1,868.22 L838.1,865.92 L841.1,863.65 L844.1,861.51 L847.1,859.53 L850.1,857.74 L853.1,856.08 L856.1,854.47 L859.1,852.91 L862.1,851.43 L865.1,850.04 L868.1,848.76 L871.1,847.58"/>
</g>
<rect x="309" y="333.7" width="560" height="2.1" fill="#000"/>
<rect x="309" y="900.9" width="560" height="1.7" fill="#000"/>
<text transform="translate(292.9,69.1) scale(1,1.045)" font-size="66.2" text-anchor="end">0.002</text>
<text transform="translate(292.9,211.4) scale(1,1.045)" font-size="66.2" text-anchor="end">0.001</text>
<text transform="translate(292.9,353.7) scale(1,1.045)" font-size="66.2" text-anchor="end">0.000</text>
<text transform="translate(292.9,540.8) scale(1,1.045)" font-size="66.2" text-anchor="end">0.02</text>
<text transform="translate(292.9,730.7) scale(1,1.045)" font-size="66.2" text-anchor="end">0.01</text>
<text transform="translate(293.6,920.2) scale(1,1.045)" font-size="66.2" text-anchor="end">0.00</text>
<text transform="translate(311,968.0) scale(1,1.045)" font-size="66.2" text-anchor="middle">0</text>
<text transform="translate(498.8,968.0) scale(1,1.045)" font-size="66.2" text-anchor="middle">3</text>
<text transform="translate(689.3,968.0) scale(1,1.045)" font-size="66.2" text-anchor="middle">6</text>
<text transform="translate(82.60,194.26) rotate(-90) scale(1.0166,1)" font-size="80.48">M</text>
<text transform="translate(87.12,71.17) rotate(-90) scale(0.9053,1)" font-size="84.34">[</text>
<text transform="translate(82.60,46.26) rotate(-90) scale(1.0166,1)" font-size="80.48">M</text>
<text transform="translate(85.02,743.94) rotate(-90) scale(1.1551,1)" font-size="79.75">ρ</text>
<text transform="translate(89.13,647.47) rotate(-90) scale(0.9226,1)" font-size="84.22">[</text>
<text transform="translate(84.65,621.24) rotate(-90) scale(1.1743,1)" font-size="78.61">f</text>
<text transform="translate(84.65,598.57) rotate(-90) scale(1.0741,1)" font-size="78.63">m</text>
<text transform="translate(56.07,533.89) rotate(-90) scale(0.7995,1)" font-size="66.93">-</text>
<text transform="translate(52.76,516.52) rotate(-90) scale(0.9163,1)" font-size="55.22">3</text>
<text transform="translate(89.17,488.76) rotate(-90) scale(0.9092,1)" font-size="83.97">]</text>
<g transform="translate(70.00,85.00) scale(0.06471)" fill="#000"><path d="M140,190 L440,190 C470,188 492,175 478,145 C468,125 450,118 432,118 L436,106 C480,100 535,130 535,190 C535,225 515,250 490,264 L140,260 Z"/><path d="M430,250 C470,290 482,330 476,385 C472,415 450,432 410,440 L510,468 C530,440 538,400 535,350 C532,300 515,270 495,245 Z"/><path d="M145,435 L430,435 C470,440 500,455 530,470 C560,482 580,472 600,462 C625,448 660,446 680,462 C700,480 700,500 682,515 C660,532 620,528 595,518 C570,508 545,503 520,505 L145,505 Z"/></g>
<g transform="translate(72.60,661.30) scale(0.06471)" fill="#000"><path d="M140,190 L440,190 C470,188 492,175 478,145 C468,125 450,118 432,118 L436,106 C480,100 535,130 535,190 C535,225 515,250 490,264 L140,260 Z"/><path d="M430,250 C470,290 482,330 476,385 C472,415 450,432 410,440 L510,468 C530,440 538,400 535,350 C532,300 515,270 495,245 Z"/><path d="M145,435 L430,435 C470,440 500,455 530,470 C560,482 580,472 600,462 C625,448 660,446 680,462 C700,480 700,500 682,515 C660,532 620,528 595,518 C570,508 545,503 520,505 L145,505 Z"/></g>
</svg></body></html>
